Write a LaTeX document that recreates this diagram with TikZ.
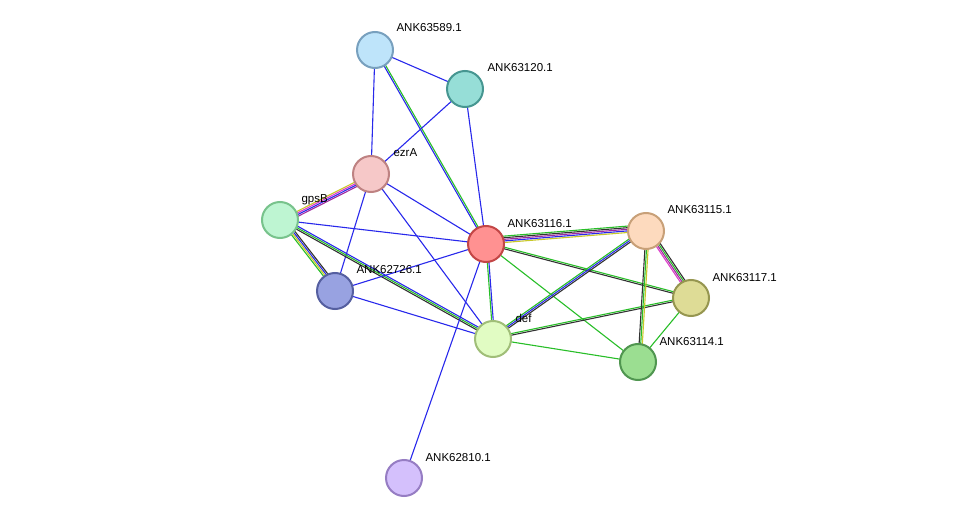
\documentclass[tikz,border=0pt]{standalone}
\usepackage{fontspec}
\setmainfont{Liberation Sans}
\usetikzlibrary{calc,backgrounds}
\definecolor{eb}{RGB}{40,40,235}
\definecolor{eg}{RGB}{40,190,40}
\definecolor{ek}{RGB}{50,50,50}
\definecolor{ey}{RGB}{200,200,40}
\definecolor{ep}{RGB}{160,40,160}
\definecolor{em}{RGB}{220,60,200}
\tikzset{
 prot/.style={circle,minimum size=36pt,inner sep=0pt,line width=2pt},
 lab/.style={anchor=base west,font=\fontsize{11.5}{12}\selectfont,text=black},
 ed/.style={line width=1.1pt}
}
\newcommand{\medge}[3]{% a b {colors}
 \foreach \c [count=\i] in {#3}{}%
 \foreach \c [count=\i] in {#3}{%
  \pgfmathsetmacro{\off}{(\i-1)*1.6}%
  \draw[ed,draw=\c] ($(#1)!\off pt!90:(#2)$) -- ($(#2)!\off pt!-90:(#1)$);}%
}
\begin{document}
\begin{tikzpicture}[x=1pt,y=-1pt]
\useasboundingbox (0,0) rectangle (975,524);
\node[prot,fill={rgb,255:red,190;green,228;blue,250},draw={rgb,255:red,120;green,160;blue,190}] (a) at (375,50) {};
\node[prot,fill={rgb,255:red,150;green,222;blue,215},draw={rgb,255:red,70;green,150;blue,145}] (b) at (465,89) {};
\node[prot,fill={rgb,255:red,246;green,200;blue,200},draw={rgb,255:red,190;green,130;blue,130}] (ez) at (371,174) {};
\node[prot,fill={rgb,255:red,190;green,245;blue,210},draw={rgb,255:red,120;green,195;blue,140}] (gp) at (280,220) {};
\node[prot,fill={rgb,255:red,255;green,145;blue,145},draw={rgb,255:red,195;green,70;blue,70}] (c) at (486,244) {};
\node[prot,fill={rgb,255:red,253;green,218;blue,190},draw={rgb,255:red,200;green,160;blue,120}] (d) at (646,231) {};
\node[prot,fill={rgb,255:red,222;green,220;blue,150},draw={rgb,255:red,150;green,150;blue,80}] (e) at (691,298) {};
\node[prot,fill={rgb,255:red,152;green,162;blue,225},draw={rgb,255:red,85;green,95;blue,160}] (f) at (335,291) {};
\node[prot,fill={rgb,255:red,225;green,252;blue,195},draw={rgb,255:red,160;green,190;blue,120}] (g) at (493,339) {};
\node[prot,fill={rgb,255:red,155;green,222;blue,145},draw={rgb,255:red,80;green,150;blue,80}] (h) at (638,362) {};
\node[prot,fill={rgb,255:red,212;green,192;blue,252},draw={rgb,255:red,150;green,125;blue,195}] (i) at (404,478) {};
\begin{scope}[on background layer]
\medge{a}{b}{eb}
\medge{a}{ez}{eb}
\medge{a}{c}{eb,eg}
\medge{b}{ez}{eb}
\medge{b}{c}{eb}
\medge{ez}{gp}{ey,em,eb,ep}
\medge{ez}{c}{eb}
\medge{ez}{g}{eb}
\medge{ez}{f}{eb}
\medge{gp}{c}{eb}
\medge{gp}{f}{eg,ey,eb,ek}
\medge{gp}{g}{ek,eg,eb}
\medge{c}{f}{eb}
\medge{c}{g}{eg,eb}
\medge{c}{i}{eb}
\medge{c}{d}{ey,eb,ep,ek,eg}
\medge{c}{e}{ek,eg}
\medge{c}{h}{eg}
\medge{f}{g}{eb}
\medge{g}{d}{ek,eb,eg}
\medge{g}{e}{ek,eg}
\medge{g}{h}{eg}
\medge{d}{e}{em,ep,eg,ek}
\medge{d}{h}{ek,eg,ey}
\medge{e}{h}{eg}
\end{scope}
\node[lab] (la) at (393,32) {ANK63589.1};
\node[lab] (lb) at (484,72) {ANK63120.1};
\node[lab] (lez) at (390,157) {ezrA};
\node[lab] (lgp) at (298,203) {gpsB};
\node[lab] (lc) at (504,227) {ANK63116.1};
\node[lab] (ld) at (664,214) {ANK63115.1};
\node[lab] (le) at (709,281) {ANK63117.1};
\node[lab] (lf) at (353,273) {ANK62726.1};
\node[lab] (lg) at (512,322) {def};
\node[lab] (lh) at (656,345) {ANK63114.1};
\node[lab] (li) at (422,461) {ANK62810.1};
\end{tikzpicture}
\end{document}
